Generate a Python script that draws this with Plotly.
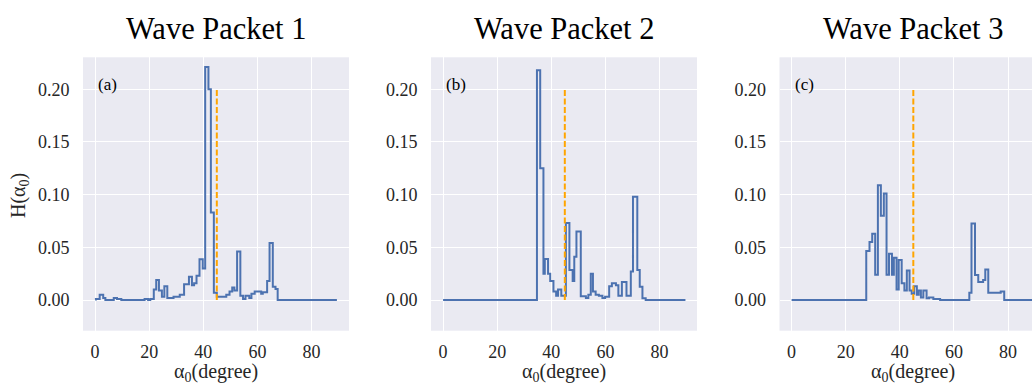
import plotly.graph_objects as go

# ---------------- data ----------------
titles = ["Wave Packet 1", "Wave Packet 2", "Wave Packet 3"]
panel_tags = ["(a)", "(b)", "(c)"]
x_label = "α<sub>0</sub>(degree)"
y_label = "H(α<sub>0</sub>)"
y_ticks = [0.00, 0.05, 0.10, 0.15, 0.20]
x_ticks = [0, 20, 40, 60, 80]
ref_alpha = 45
ref_height = 0.20

alpha_edges_1 = [0, 0.3, 1.7, 3.0, 3.8, 6.9, 8.1, 9.7, 18.3, 19.6, 20.4, 21.7, 22.6, 23.6, 24.7,
                 25.6, 26.7, 29.0, 31.3, 32.9, 34.7, 35.8, 36.6, 37.5, 38.6, 39.8, 40.7, 41.9, 42.8,
                 43.9, 45.0, 48.5, 49.7, 50.7, 51.5, 52.5, 53.7, 54.7, 55.6, 57.0, 57.8, 59.0, 61.4,
                 62.0, 63.6, 64.5, 65.7, 66.7, 67.5, 89.4]
H_1 = [0.0005, 0.001, 0.005, 0.002, 0.0, 0.002, 0.001, 0.0, 0.001, 0.0, 0.001, 0.010, 0.019, 0.009,
       0.003, 0.013, 0.002, 0.003, 0.005, 0.015, 0.022, 0.014, 0.016, 0.023, 0.0386, 0.030, 0.221,
       0.200, 0.083, 0.007, 0.003, 0.005, 0.008, 0.012, 0.009, 0.046, 0.004, 0.001, 0.004, 0.002,
       0.006, 0.008, 0.006, 0.0073, 0.018, 0.054, 0.0126, 0.0104, 0.0]

alpha_edges_2 = [0, 34.7, 35.9, 37.1, 37.6, 38.8, 39.6, 40.8, 41.8, 42.5, 43.7, 45.4, 46.7, 47.9,
                 48.5, 49.3, 50.9, 52.8, 53.7, 54.6, 55.4, 56.4, 57.6, 58.9, 59.9, 61.4, 62.4, 63.9,
                 64.8, 66.1, 67.8, 69.4, 70.2, 71.8, 72.7, 73.7, 74.9, 89.6]
H_2 = [0.0, 0.218, 0.125, 0.025, 0.039, 0.025, 0.018, 0.008, 0.004, 0.010, 0.004, 0.073, 0.0285,
       0.018, 0.041, 0.065, 0.0035, 0.002, 0.005, 0.025, 0.008, 0.005, 0.004, 0.002, 0.003, 0.013,
       0.016, 0.014, 0.004, 0.017, 0.004, 0.027, 0.098, 0.0285, 0.0126, 0.0016, 0.0]

alpha_edges_3 = [0, 27.6, 28.8, 29.8, 30.9, 31.9, 33.0, 34.1, 35.1, 36.0, 37.1, 37.8, 38.8, 39.6,
                 40.7, 41.7, 42.6, 43.6, 44.4, 45.3, 46.3, 47.0, 47.8, 48.7, 49.9, 50.8, 52.4, 54.9,
                 65.7, 66.5, 67.8, 69.0, 70.8, 71.6, 72.7, 77.3, 78.6, 90]
H_3 = [0.0, 0.0465, 0.055, 0.063, 0.024, 0.109, 0.080, 0.101, 0.024, 0.044, 0.024, 0.040, 0.010,
       0.038, 0.016, 0.009, 0.028, 0.009, 0.006, 0.013, 0.005, 0.009, 0.0025, 0.009, 0.0016, 0.0025,
       0.001, 0.0, 0.007, 0.0727, 0.0237, 0.017, 0.019, 0.029, 0.007, 0.008, 0.0]

panels = [(alpha_edges_1, H_1), (alpha_edges_2, H_2), (alpha_edges_3, H_3)]

# ---------------- layout geometry ----------------
W, Hh = 1032, 385
x_px = [(83.0, 349.0), (431.0, 697.0), (779.5, 1032.0)]
full_px = [(83.0, 349.0), (431.0, 697.0), (779.5, 1045.5)]
y_top_px, y_bot_px = 57.3, 330.7
x_ranges = [[-4.47, 93.87], [-4.47, 93.87], [-4.47, 88.87]]
y_range = [-0.0291, 0.2303]

SERIF = "Liberation Serif, Times New Roman, serif"
BLUE = "#4C72B0"
TXT = "#262626"

fig = go.Figure()
for i, (edges, vals) in enumerate(panels):
    xa = "x" if i == 0 else f"x{i+1}"
    ya = "y" if i == 0 else f"y{i+1}"
    fig.add_trace(go.Scatter(x=edges, y=list(vals) + [vals[-1]], mode="lines",
                             line=dict(color=BLUE, width=2, shape="hv"),
                             xaxis=xa, yaxis=ya, showlegend=False, hoverinfo="skip"))
    fig.add_trace(go.Scatter(x=[ref_alpha, ref_alpha], y=[0, ref_height], mode="lines",
                             line=dict(color="#FFA500", width=2, dash="6px,2.5px"),
                             xaxis=xa, yaxis=ya, showlegend=False, hoverinfo="skip"))

layout = dict(width=W, height=Hh, margin=dict(l=0, r=0, t=0, b=0),
              paper_bgcolor="white", plot_bgcolor="#EAEAF2", showlegend=False,
              font=dict(family=SERIF, color=TXT))
annotations = []
for i in range(3):
    sfx = "" if i == 0 else str(i + 1)
    x0, x1 = x_px[i]
    dom_x = [x0 / W, min(x1 / W, 1.0)]
    dom_y = [1 - y_bot_px / Hh, 1 - y_top_px / Hh]
    layout["xaxis" + sfx] = dict(domain=dom_x, range=x_ranges[i], tickvals=x_ticks,
                                 ticktext=[str(v) for v in x_ticks],
                                 showgrid=True, gridcolor="white", gridwidth=1.2, zeroline=False,
                                 showline=False, ticks="outside", ticklen=5,
                                 tickcolor="rgba(0,0,0,0)",
                                 tickfont=dict(family=SERIF, size=18, color=TXT),
                                 anchor="y" + sfx, fixedrange=True)
    layout["yaxis" + sfx] = dict(domain=dom_y, range=y_range, tickvals=y_ticks,
                                 ticktext=[f"{v:.2f}" for v in y_ticks],
                                 showgrid=True, gridcolor="white", gridwidth=1.2, zeroline=False,
                                 showline=False, ticks="outside", ticklen=9,
                                 tickcolor="rgba(0,0,0,0)",
                                 tickfont=dict(family=SERIF, size=18, color=TXT),
                                 anchor="x" + sfx, fixedrange=True)
    fx0, fx1 = full_px[i]
    cx = (fx0 + fx1) / 2 / W
    annotations.append(dict(text=titles[i], xref="paper", yref="paper",
                            x=cx, y=1 - 29 / Hh, xanchor="center", yanchor="middle",
                            showarrow=False, font=dict(family=SERIF, size=30.5, color="black")))
    annotations.append(dict(text=panel_tags[i], xref=f"x{sfx} domain", yref=f"y{sfx} domain",
                            x=0.05 * 266 / (x1 - x0), y=0.9, xanchor="left", yanchor="middle",
                            showarrow=False, font=dict(family=SERIF, size=17, color="black")))
    annotations.append(dict(text=x_label, xref="paper", yref="paper",
                            x=cx, y=1 - 372.5 / Hh, xanchor="center", yanchor="middle",
                            showarrow=False, font=dict(family=SERIF, size=20, color=TXT)))
annotations.append(dict(text=y_label, xref="paper", yref="paper", textangle=-90,
                        x=20 / W, y=1 - 196 / Hh, xanchor="center", yanchor="middle",
                        showarrow=False, font=dict(family=SERIF, size=20, color=TXT)))
layout["annotations"] = annotations
fig.update_layout(**layout)
fig.write_html("out.html", config={"displayModeBar": False},
               post_script="document.body.style.margin='0';document.body.style.padding='0';"
                           "document.body.style.overflow='hidden';"
                           "document.documentElement.style.overflow='hidden';")
